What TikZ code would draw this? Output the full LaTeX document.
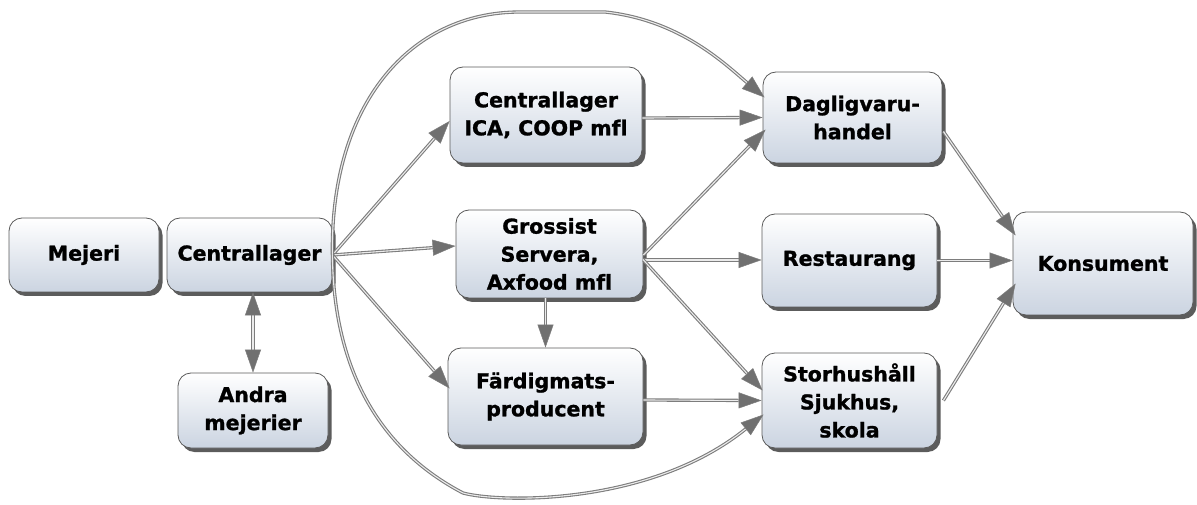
\documentclass[tikz,border=0pt]{standalone}
\usepackage{fontspec}
\newfontfamily\boxfont{DejaVu Sans Bold}[FakeBold=1.2,Ligatures=NoCommon]
\usetikzlibrary{arrows.meta,shadows,calc}
\definecolor{boxbot}{RGB}{203,212,225}
\definecolor{edgegray}{RGB}{125,125,125}
\definecolor{tipgray}{RGB}{112,112,112}
\tikzset{
  box/.style={draw={rgb,255:red,90;green,90;blue,90}, line width=0.8pt, rounded corners=13pt,
    top color=white, bottom color=boxbot, align=center,
    font=\boxfont\fontsize{20.5}{28}\selectfont, inner sep=0pt,
    drop shadow={shadow xshift=3.5pt, shadow yshift=-4pt, opacity=0.75, fill=black!85}},
  tip/.tip={Triangle[length=23pt,width=16pt,fill=tipgray,line width=0.5pt]},
  conn/.style={draw=edgegray, line width=1.1pt, double={rgb,255:red,235;green,235;blue,235}, double distance=1.1pt, -tip},
  conn2/.style={conn, tip-tip}
}
\begin{document}
\begin{tikzpicture}[x=1pt,y=1pt]
\useasboundingbox (0,0) rectangle (1197,504);
\node[box, minimum width=150pt, minimum height=74pt] (mj) at (84,249) {Mejeri};
\node[box, minimum width=165pt, minimum height=74pt] (cl) at (249.5,249) {Centrallager};
\node[box, minimum width=150pt, minimum height=75pt] (an) at (253,93.5) {Andra\\mejerier};
\node[box, minimum width=192pt, minimum height=96pt] (ica) at (546,389) {Centrallager\\ICA, COOP mfl};
\node[box, minimum width=187pt, minimum height=88pt] (gr) at (549.5,250) {Grossist\\Servera,\\Axfood mfl};
\node[box, minimum width=195pt, minimum height=97pt] (fa) at (545.5,107.5) {Färdigmats-\\producent};
\node[box, minimum width=179pt, minimum height=91pt] (dv) at (852.5,386.5) {Dagligvaru-\\handel};
\node[box, minimum width=175pt, minimum height=93pt] (rs) at (849.5,243.5) {Restaurang};
\node[box, minimum width=175pt, minimum height=95pt] (sh) at (849.5,103.5) {Storhushåll\\Sjukhus,\\skola};
\node[box, minimum width=180pt, minimum height=103pt] (ko) at (1103,240.5) {Konsument};

\coordinate (grout) at ($(gr.east)+(0,-6)$);
\draw[conn2] (an.north |- cl.south) -- (an.north);
\draw[conn] (cl.east) -- ($(ica.west)+(0,-6)$);
\draw[conn] (cl.east) -- ($(gr.west)+(0,8)$);
\draw[conn] (cl.east) -- ($(fa.west)+(2,8)$);
\draw[conn] (cl.east) .. controls (330,400) and (410,492) .. (520,492) -- (605,492)
   .. controls (680,484) and (725,440) .. ($(dv.west)+(2,20)$);
\draw[conn] (cl.east) .. controls (334,110) and (400,44) .. (463,11)
   .. controls (500,1) and (650,-2) .. ($(sh.west)+(2,-14)$);
\draw[conn] ($(ica.east)+(0,-3)$) -- (dv.west);
\draw[conn] ($(gr.east)+(0,-1)$) -- ($(dv.west)+(3,-12)$);
\draw[conn] (grout) -- (rs.west |- grout);
\draw[conn] (grout) -- ($(sh.west)+(1,10)$);
\draw[conn] (fa.north |- gr.south) -- (fa.north);
\draw[conn] ($(fa.east)+(0,-3.5)$) -- (sh.west);
\draw[conn] ($(dv.east)+(1,-14)$) -- ($(ko.west)+(3,28)$);
\draw[conn] (rs.east) -- (ko.west |- rs.east);
\draw[conn] ($(sh.east)+(6,0)$) -- ($(ko.west)+(3,-20)$);
\end{tikzpicture}
\end{document}
